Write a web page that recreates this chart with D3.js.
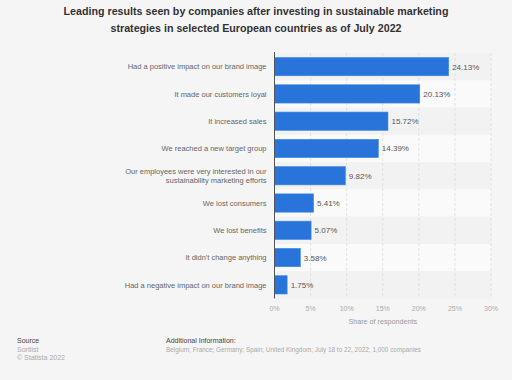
<!DOCTYPE html>
<html><head><meta charset="utf-8">
<script src="https://cdn.jsdelivr.net/npm/d3@7"></script>
<style>body{margin:0;background:#f5f5f5;}svg{display:block;font-family:"Liberation Sans",Arial,sans-serif;}</style>
</head><body>
<script>
const categories = [
  ["Had a positive impact on our brand image"],
  ["It made our customers loyal"],
  ["It increased sales"],
  ["We reached a new target group"],
  ["Our employees were very interested in our", "sustainability marketing efforts"],
  ["We lost consumers"],
  ["We lost benefits"],
  ["It didn't change anything"],
  ["Had a negative impact on our brand image"]
];
const values = [24.13, 20.13, 15.72, 14.39, 9.82, 5.41, 5.07, 3.58, 1.75];
const ticks = [0, 5, 10, 15, 20, 25, 30];
const titleLines = ["Leading results seen by companies after investing in sustainable marketing",
  "strategies in selected European countries as of July 2022"];

const W = 512, H = 380;
const svg = d3.select("body").append("svg").attr("width", W).attr("height", H);
svg.append("rect").attr("width", W).attr("height", H).attr("fill", "#f5f5f5");

const m = {left: 274.5, right: 491, top: 53, bottom: 298.5};
const x = d3.scaleLinear().domain([0, 30]).range([m.left, m.right]);
const y = d3.scaleBand().domain(d3.range(values.length)).range([m.top, m.bottom]).paddingInner(0.33).paddingOuter(0.165);
const row = d3.scaleBand().domain(d3.range(values.length)).range([m.top, m.bottom]);

// title
svg.append("g").selectAll("text").data(titleLines).join("text")
  .attr("x", 256).attr("y", (d, i) => 15 + i * 16.5)
  .attr("text-anchor", "middle").attr("font-size", 10.7).attr("font-weight", "bold").attr("fill", "#333")
  .text(d => d);

// row stripes
svg.append("g").selectAll("rect").data(d3.range(values.length)).join("rect")
  .attr("x", m.left).attr("width", m.right - m.left)
  .attr("y", i => row(i)).attr("height", row.bandwidth())
  .attr("fill", i => i % 2 === 0 ? "#f2f2f2" : "#fafafa");

// gridlines
svg.append("g").selectAll("line").data(ticks.slice(1)).join("line")
  .attr("x1", d => x(d)).attr("x2", d => x(d)).attr("y1", m.top).attr("y2", m.bottom)
  .attr("stroke", "#dcdcdc").attr("stroke-width", 0.8).attr("stroke-dasharray", "3,2");

// bars
svg.append("g").selectAll("rect").data(values).join("rect")
  .attr("x", x(0)).attr("y", (d, i) => y(i)).attr("height", y.bandwidth())
  .attr("width", d => x(d) - x(0))
  .attr("fill", "#2874db").attr("stroke", "#3a86ea").attr("stroke-width", 0.6);

// value labels
svg.append("g").selectAll("text").data(values).join("text")
  .attr("x", d => x(d) + 3.5).attr("y", (d, i) => y(i) + y.bandwidth() / 2 + 3)
  .attr("font-size", 8).attr("fill", "#555")
  .text(d => d.toFixed(2) + "%");

// axis line
svg.append("line").attr("x1", x(0)).attr("x2", x(0)).attr("y1", m.top - 1).attr("y2", m.bottom)
  .attr("stroke", "#555").attr("stroke-width", 1);

// category labels
const cl = svg.append("g").selectAll("text").data(categories).join("text")
  .attr("text-anchor", "end").attr("font-size", 7.5).attr("fill", "#666");
cl.each(function(lines, i) {
  const t = d3.select(this);
  const cy = y(i) + y.bandwidth() / 2;
  lines.forEach((ln, k) => {
    t.append("tspan").attr("x", 266.5)
      .attr("y", cy + 2.7 + (k - (lines.length - 1) / 2) * 9)
      .text(ln);
  });
});

// x axis ticks
svg.append("g").selectAll("text").data(ticks).join("text")
  .attr("x", d => x(d)).attr("y", 311).attr("text-anchor", "middle")
  .attr("font-size", 7).attr("fill", "#aaa").text(d => d + "%");

svg.append("text").attr("x", (m.left + m.right) / 2).attr("y", 324).attr("text-anchor", "middle")
  .attr("font-size", 7.2).attr("fill", "#999").text("Share of respondents");

// footer
const f = svg.append("g").attr("font-size", 7);
f.append("text").attr("x", 17).attr("y", 343).attr("fill", "#444").text("Source");
f.append("text").attr("x", 17).attr("y", 351.5).attr("fill", "#aaa").text("Sortlist");
f.append("text").attr("x", 17).attr("y", 360).attr("fill", "#aaa").text("© Statista 2022");
f.append("text").attr("x", 166).attr("y", 343).attr("fill", "#444").text("Additional Information:");
f.append("text").attr("x", 166).attr("y", 351.5).attr("fill", "#aaa").attr("font-size", 6.4)
  .text("Belgium; France; Germany; Spain; United Kingdom; July 18 to 22, 2022; 1,000 companies");
</script>
</body></html>
